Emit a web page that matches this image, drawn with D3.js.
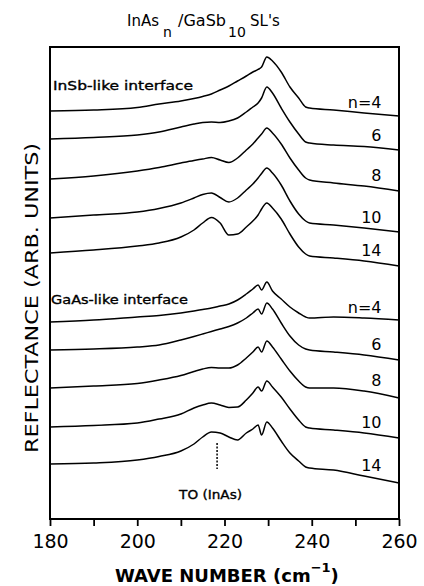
<!DOCTYPE html>
<html>
<head>
<meta charset="utf-8">
<script src="https://cdn.jsdelivr.net/npm/d3@7"></script>
<style>
  html, body { margin: 0; padding: 0; background: #fff; }
  svg { display: block; }
</style>
</head>
<body>
<svg id="chart" width="424" height="586"></svg>
<script>
// Wave numbers (cm^-1) at which every spectrum is sampled
const wavenumbers = [180, 190, 200, 205, 210, 213, 215, 217, 219, 221, 223, 225, 226.5, 227.7, 228.5, 229.7, 231, 233, 235, 237, 238.6, 239.5, 245, 252, 260];

// Stacked reflectance (arb. units), InSb-like interface samples
const insbN4  = [102, 102.25, 102.88, 103.75, 104.5, 105.13, 105.63, 106.25, 107.25, 108.25, 109.5, 110.75, 111.75, 112.38, 113, 115.5, 114.5, 111.75, 108, 105.25, 103, 102.75, 102.25, 101.5, 100.75];
const insbN6  = [95, 95.38, 96, 96.75, 98, 98.75, 99.13, 99.25, 99.13, 99.5, 100.25, 101.75, 103, 104, 105.25, 108, 106.5, 102.75, 99.25, 96.25, 94.25, 94, 93.5, 93.13, 92.25];
const insbN8  = [85, 85.75, 87, 87.88, 89, 89.63, 90, 90.38, 89.75, 89.13, 90.25, 92.25, 93.75, 95.25, 96.25, 97.75, 96.5, 93.75, 90.25, 87.25, 85.25, 84.75, 84, 83.25, 82];
const insbN10 = [75.25, 76, 76.75, 77.63, 79, 80.25, 81.13, 81.5, 80.38, 79.25, 80.25, 82.25, 83.75, 85.25, 86.38, 87.75, 86.5, 83.5, 79.5, 76.25, 74.5, 74, 73.5, 72.75, 71.75];
const insbN14 = [66.5, 67.25, 68.25, 69, 70.5, 72.25, 74, 75.38, 74, 71, 71.25, 73, 74.5, 76, 77.5, 79, 77.75, 75, 71.25, 68, 66.25, 65.75, 65.25, 64.5, 63.25];

// Stacked reflectance (arb. units), GaAs-like interface samples
const gaasN4  = [49.25, 49.75, 50.5, 50.88, 51.5, 52, 52.38, 52.75, 53.25, 53.75, 54.75, 56.25, 57.5, 58.5, 57.25, 59.25, 57, 55, 53, 51.5, 50.5, 50.25, 50.5, 50.25, 49.75];
const gaasN6  = [42.25, 42.5, 43, 43.5, 44.75, 45.63, 46.25, 46.88, 47.5, 48.13, 49, 50.25, 51.5, 52.5, 51.25, 54, 52.5, 49, 45.75, 43.5, 42.5, 42.25, 41.75, 41, 39.75];
const gaasN8  = [32.75, 33.25, 33.88, 34.75, 35.88, 36.88, 37.5, 37.88, 37.75, 37.75, 38.5, 40.25, 41.75, 43, 41.75, 44.5, 43, 40, 37, 34.5, 33, 32.75, 32.75, 32, 30.25];
const gaasN10 = [23, 23.38, 24, 25, 26.25, 27.75, 28.5, 29, 28.5, 27.88, 28, 29.75, 31.5, 33, 32, 34.5, 33, 30.5, 27.5, 24.75, 23, 22.75, 22.25, 21.5, 20.25];
const gaasN14 = [13.75, 14, 14.75, 15.63, 17, 18.75, 20.5, 21.75, 21.5, 20.5, 19.75, 21.5, 22.5, 23.5, 21, 24.25, 22.75, 19.5, 16.5, 14.5, 13, 12.75, 12.25, 10.75, 9];

// Layer labels for each stack
const layerLabels = ["n=4", "6", "8", "10", "14"];
const insbSpectra = [insbN4, insbN6, insbN8, insbN10, insbN14];
const gaasSpectra = [gaasN4, gaasN6, gaasN8, gaasN10, gaasN14];

// Axis ticks
const xTicks = [180, 190, 200, 210, 220, 230, 240, 250, 260];
const xTickLabels = [180, 200, 220, 240, 260];

// InAs TO phonon marker (cm^-1) and its vertical extent (arb. units)
const toPosition = 218.3;
const toExtent = [12.5, 19];

const svg = d3.select("#chart");
const plotLeft = 50, plotRight = 399, plotTop = 47, plotBottom = 519;
const FONT = "'DejaVu Sans', 'Liberation Sans', Arial, sans-serif";

const x = d3.scaleLinear().domain([180, 260]).range([plotLeft, plotRight]);
const y = d3.scaleLinear().domain([0, 118]).range([plotBottom, plotTop]);

const line = d3.line()
  .x((d, i) => x(wavenumbers[i]))
  .y(d => y(d))
  .curve(d3.curveMonotoneX);

// Spectra
const allSpectra = insbSpectra.concat(gaasSpectra);
svg.append("g")
  .selectAll("path")
  .data(allSpectra)
  .join("path")
  .attr("d", line)
  .attr("fill", "none")
  .attr("stroke", "#000")
  .attr("stroke-width", 1.5)
  .attr("stroke-linejoin", "round");

// Layer-count labels at the right end of each spectrum
const labelW = 256;
const labelIdx = wavenumbers.indexOf(252);
svg.append("g")
  .selectAll("text")
  .data(allSpectra.map((s, i) => ({ s, t: layerLabels[i % 5] })))
  .join("text")
  .attr("x", x(labelW))
  .attr("y", d => y(d.s[labelIdx]) - 5)
  .attr("text-anchor", "end")
  .attr("font-family", FONT)
  .attr("font-size", 16)
  .attr("fill", "#000")
  .text(d => d.t);

// Frame
svg.append("rect")
  .attr("x", plotLeft).attr("y", plotTop)
  .attr("width", plotRight - plotLeft).attr("height", plotBottom - plotTop)
  .attr("fill", "none").attr("stroke", "#000").attr("stroke-width", 2);

// Bottom axis
const xAxis = d3.axisBottom(x)
  .tickValues(xTicks)
  .tickSize(7)
  .tickPadding(9)
  .tickFormat(d => xTickLabels.includes(d) ? d : "");
const gx = svg.append("g").attr("transform", `translate(0,${plotBottom})`).call(xAxis);
gx.select(".domain").remove();
gx.selectAll(".tick line").attr("stroke", "#000").attr("stroke-width", 1.8);
gx.selectAll(".tick text")
  .attr("font-family", FONT)
  .attr("font-size", 19)
  .attr("fill", "#000");

// Interface labels (medium weight: regular glyphs with a thin outline)
function annot(tx, ty, len, str) {
  svg.append("text")
    .attr("x", tx).attr("y", ty)
    .attr("font-family", FONT).attr("font-size", 12.5)
    .attr("stroke", "#000").attr("stroke-width", 0.35)
    .attr("textLength", len).attr("lengthAdjust", "spacingAndGlyphs")
    .text(str);
}
annot(plotLeft + 3, 89.5, 140, "InSb-like interface");
annot(plotLeft + 1, 303.5, 137, "GaAs-like interface");

// TO (InAs) marker
svg.append("line")
  .attr("x1", x(toPosition)).attr("x2", x(toPosition))
  .attr("y1", y(toExtent[1])).attr("y2", y(toExtent[0]))
  .attr("stroke", "#000").attr("stroke-width", 1.5)
  .attr("stroke-dasharray", "2,1.5");
annot(x(toPosition) - 38, 498.5, 63, "TO (InAs)");

// Y axis title
svg.append("text")
  .attr("transform", "translate(38,298) rotate(-90)")
  .attr("text-anchor", "middle")
  .attr("font-family", FONT).attr("font-size", 18)
  .attr("textLength", 310).attr("lengthAdjust", "spacingAndGlyphs")
  .text("REFLECTANCE (ARB. UNITS)");

// X axis title with superscript
const xt = svg.append("text")
  .attr("x", 115).attr("y", 582)
  .attr("font-family", FONT).attr("font-size", 18).attr("font-weight", "bold");
xt.append("tspan").text("WAVE NUMBER (cm");
xt.append("tspan").attr("dy", -10).attr("font-size", 13).text("−1");
xt.append("tspan").attr("dy", 10).text(")");

// Chart title with subscripts
const title = svg.append("g").attr("font-family", FONT).attr("fill", "#000");
title.append("text").attr("x", 127).attr("y", 26).attr("font-size", 15).text("InAs");
title.append("text").attr("x", 163).attr("y", 37).attr("font-size", 14).text("n");
title.append("text").attr("x", 178).attr("y", 26).attr("font-size", 15)
  .attr("textLength", 48).attr("lengthAdjust", "spacingAndGlyphs").text("/GaSb");
title.append("text").attr("x", 228).attr("y", 37).attr("font-size", 14).text("10");
title.append("text").attr("x", 250).attr("y", 26).attr("font-size", 15).text("SL's");
</script>
</body>
</html>
